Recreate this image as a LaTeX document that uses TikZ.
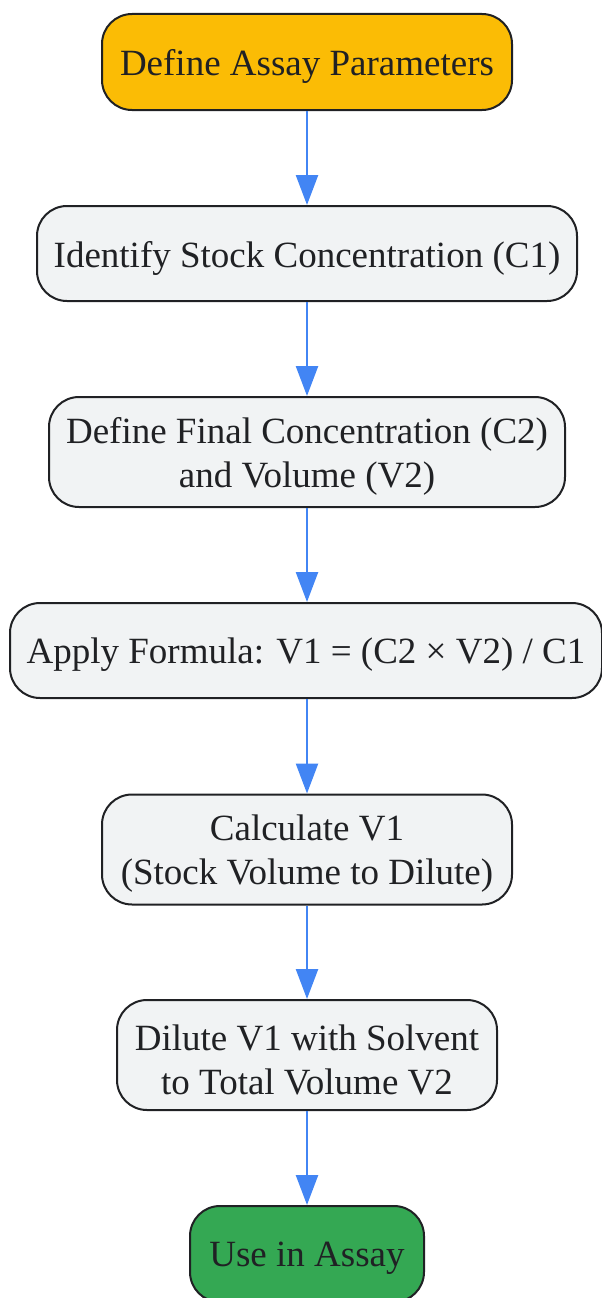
\documentclass[tikz,border=0pt]{standalone}
\usepackage{fontspec}
\setmainfont{Liberation Serif}
\usetikzlibrary{arrows.meta}
\definecolor{borderc}{HTML}{202124}
\definecolor{orangec}{HTML}{FBBC05}
\definecolor{grayc}{HTML}{F1F3F4}
\definecolor{greenc}{HTML}{34A853}
\definecolor{bluec}{HTML}{4285F4}
\newcommand{\dnline}[1]{\raisebox{-4.5pt}[\height][\depth]{#1}}
\tikzset{
  box/.style={draw=borderc, line width=2pt, rounded corners=30pt, fill=grayc,
    text=borderc, align=center, font=\fontsize{37}{44}\selectfont, inner sep=0pt},
  flow/.style={draw=bluec, line width=2.5pt, -{Triangle[length=30pt,width=22pt]}}
}
\begin{document}
\begin{tikzpicture}[x=1pt,y=-1pt]
\useasboundingbox (0,0) rectangle (602,1298);
\node[box, fill=orangec, minimum width=410pt, minimum height=96pt] (n1) at (307,62) {\dnline{Define Assay Parameters}};
\node[box, minimum width=540pt, minimum height=95pt] (n2) at (307,253.5) {\dnline{Identify Stock Concentration (C1)}};
\node[box, minimum width=516pt, minimum height=110pt] (n3) at (307,452) {\dnline{Define Final Concentration (C2)}\\\dnline{and Volume (V2)}};
\node[box, minimum width=592pt, minimum height=95pt] (n4) at (306,650.5) {\dnline{Apply Formula: V1 = (C2 × V2) / C1}};
\node[box, minimum width=410pt, minimum height=110pt] (n5) at (307,849.5) {\dnline{Calculate V1}\\\dnline{(Stock Volume to Dilute)}};
\node[box, minimum width=380pt, minimum height=110pt] (n6) at (307,1055) {\dnline{Dilute V1 with Solvent}\\\dnline{to Total Volume V2}};
\node[box, fill=greenc, minimum width=234pt, minimum height=96pt] (n7) at (307,1254) {\dnline{Use in Assay}};
\draw[flow] (n1.south) -- (n2.north);
\draw[flow] (n2.south) -- (n3.north);
\draw[flow] (n3.south) -- (n3.south |- n4.north);
\draw[flow] (n3.south |- n4.south) -- (n5.north);
\draw[flow] (n5.south) -- (n6.north);
\draw[flow] (n6.south) -- (n7.north);
\end{tikzpicture}
\end{document}
